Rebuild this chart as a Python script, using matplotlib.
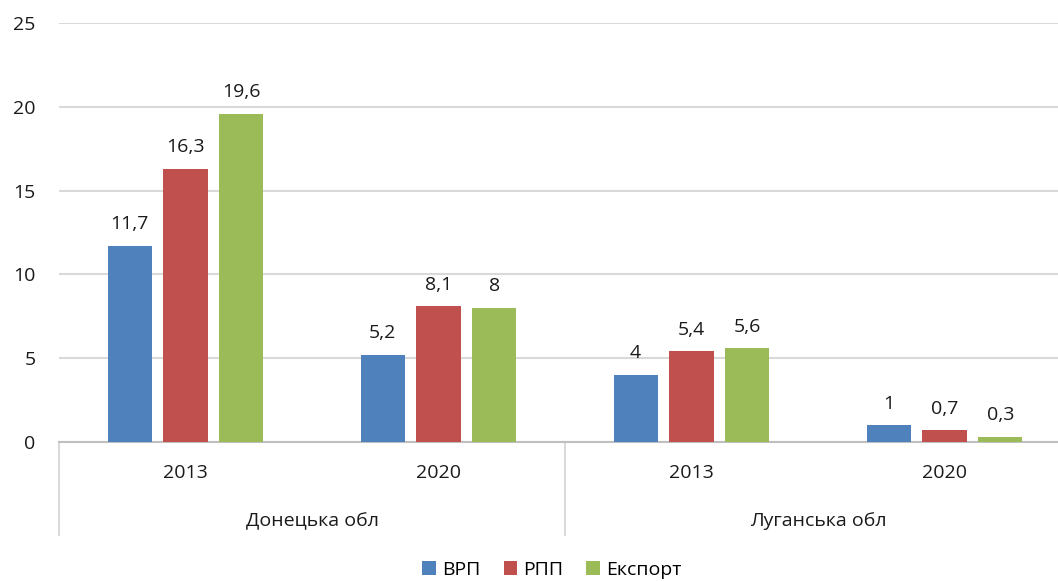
import numpy as np
import matplotlib
matplotlib.use("Agg")
import matplotlib.pyplot as plt
from matplotlib.lines import Line2D

plt.rcParams['font.family'] = ['Open Sans', 'DejaVu Sans']

# data
years = ['2013', '2020', '2013', '2020']
regions = ['Донецька обл', 'Луганська обл']
series = ['ВРП', 'РПП', 'Експорт']
vrp = [11.7, 5.2, 4.0, 1.0]
rpp = [16.3, 8.1, 5.4, 0.7]
export = [19.6, 8.0, 5.6, 0.3]
colors = ['#4F81BD', '#C0504D', '#9BBB59']

fs = 14
fig = plt.figure(figsize=(10.58, 5.81), dpi=100)
# plot area runs a little past the right edge of the picture
ax = fig.add_axes([59 / 1058, 1 - 442 / 581, 1012 / 1058, 419 / 581])

x = np.arange(len(years))
width = 0.174
step = 0.221
for i, (name, vals, c) in enumerate(zip(series, [vrp, rpp, export], colors)):
    pos = x + (i - 1) * step
    ax.bar(pos, vals, width, color=c, label=name, zorder=3)
    for p, v in zip(pos, vals):
        ax.annotate(f"{v:g}".replace('.', ','), (p, v), xytext=(0, 9),
                    textcoords='offset points', ha='center', va='bottom',
                    fontsize=fs, color='#1a1a1a')

ax.set_xlim(-0.5, 3.5)
ax.set_ylim(0, 25)
ax.set_yticks(range(0, 26, 5))
ax.yaxis.grid(True, color='#D9D9D9', linewidth=1.5, zorder=0)
ax.tick_params(axis='y', length=0, pad=17, labelsize=fs, labelcolor='#1a1a1a')
ax.set_xticks([])
for s in ['top', 'right', 'left']:
    ax.spines[s].set_visible(False)
ax.spines['bottom'].set_color('#BFBFBF')
ax.spines['bottom'].set_linewidth(1.5)

# multi-level category labels
tr = ax.get_xaxis_transform()
for xi, yr in zip(x, years):
    ax.text(xi, -0.074, yr, transform=tr, ha='center', va='center',
            fontsize=fs, color='#1a1a1a')
for k, reg in enumerate(regions):
    ax.text(2 * k + 0.5, -0.188, reg, transform=tr, ha='center', va='center',
            fontsize=fs, color='#1a1a1a')
for xs in [-0.5, 1.5, 3.5]:
    ax.add_line(Line2D([xs, xs], [0, -0.222], transform=tr, color='#D9D9D9',
                       linewidth=1.5, clip_on=False))

ax.legend(loc='center', bbox_to_anchor=(0.487, -0.305), ncol=3,
          frameon=False, fontsize=fs, handlelength=0.7, handleheight=0.7,
          handletextpad=0.3, columnspacing=1.2)

fig.savefig('out.png', dpi=100)
